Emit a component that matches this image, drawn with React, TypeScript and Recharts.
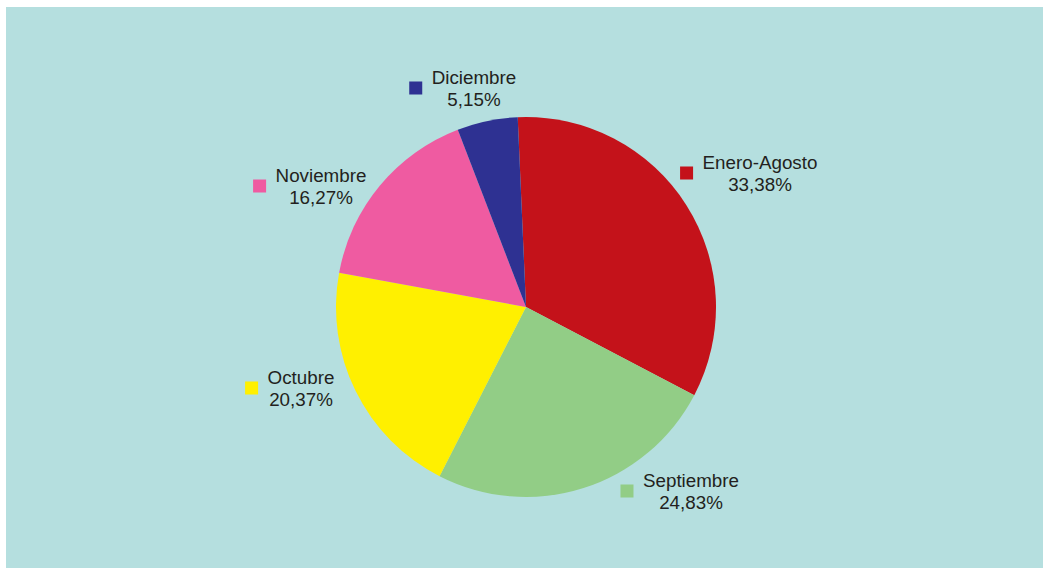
import { PieChart, Pie, Cell } from "recharts";

const MONTHS = ["Enero-Agosto", "Septiembre", "Octubre", "Noviembre", "Diciembre"];
const SHARES = [33.38, 24.83, 20.37, 16.27, 5.15];

const COLORS = ["#c4121a", "#92cd86", "#fff000", "#ef5ba1", "#2e3192"];

// where each label's text block sits, relative to the pie centre
const LABEL_OFFSETS = [
  [234, -134],
  [165, 184],
  [-225, 81],
  [-205, -121],
  [-52, -219],
];

const FONT = "Liberation Sans, Arial, sans-serif";
const FONT_SIZE = 18.8;

const data = MONTHS.map((name, i) => ({ name, value: SHARES[i] }));

let ctx: CanvasRenderingContext2D | null = null;
const textWidth = (s: string) => {
  if (!ctx) ctx = document.createElement("canvas").getContext("2d");
  if (!ctx) return s.length * FONT_SIZE * 0.55;
  ctx.font = `${FONT_SIZE}px "Liberation Sans"`;
  return ctx.measureText(s).width;
};

const renderLabel = (props: any) => {
  const { cx, cy, index } = props;
  const name = MONTHS[index];
  const pct = SHARES[index].toFixed(2).replace(".", ",") + "%";
  const [dx, dy] = LABEL_OFFSETS[index];
  const x = cx + dx;
  const y = cy + dy;
  const half = Math.max(textWidth(name), textWidth(pct)) / 2;
  const mx = x - half - 16;
  return (
    <g key={`lbl-${index}`}>
      <rect x={mx - 6.5} y={y - 6.5} width={13} height={13} fill={COLORS[index]} />
      <text x={x} y={y - 4} textAnchor="middle" fontFamily={FONT} fontSize={FONT_SIZE} fill="#231f20">
        {name}
      </text>
      <text x={x} y={y + 18} textAnchor="middle" fontFamily={FONT} fontSize={FONT_SIZE} fill="#231f20">
        {pct}
      </text>
    </g>
  );
};

export default function App() {
  return (
    <div style={{ position: "absolute", left: 6, top: 7, width: 1037, height: 561, background: "#b5dfdf" }}>
      <PieChart width={1037} height={561} margin={{ top: 0, right: 0, bottom: 0, left: 0 }}>
        <Pie
          data={data}
          dataKey="value"
          cx={520}
          cy={300}
          outerRadius={190}
          startAngle={92.5}
          endAngle={-267.5}
          stroke="none"
          label={renderLabel}
          labelLine={false}
          isAnimationActive={false}
        >
          {data.map((entry, index) => (
            <Cell key={`cell-${index}`} fill={COLORS[index]} />
          ))}
        </Pie>
      </PieChart>
    </div>
  );
}
